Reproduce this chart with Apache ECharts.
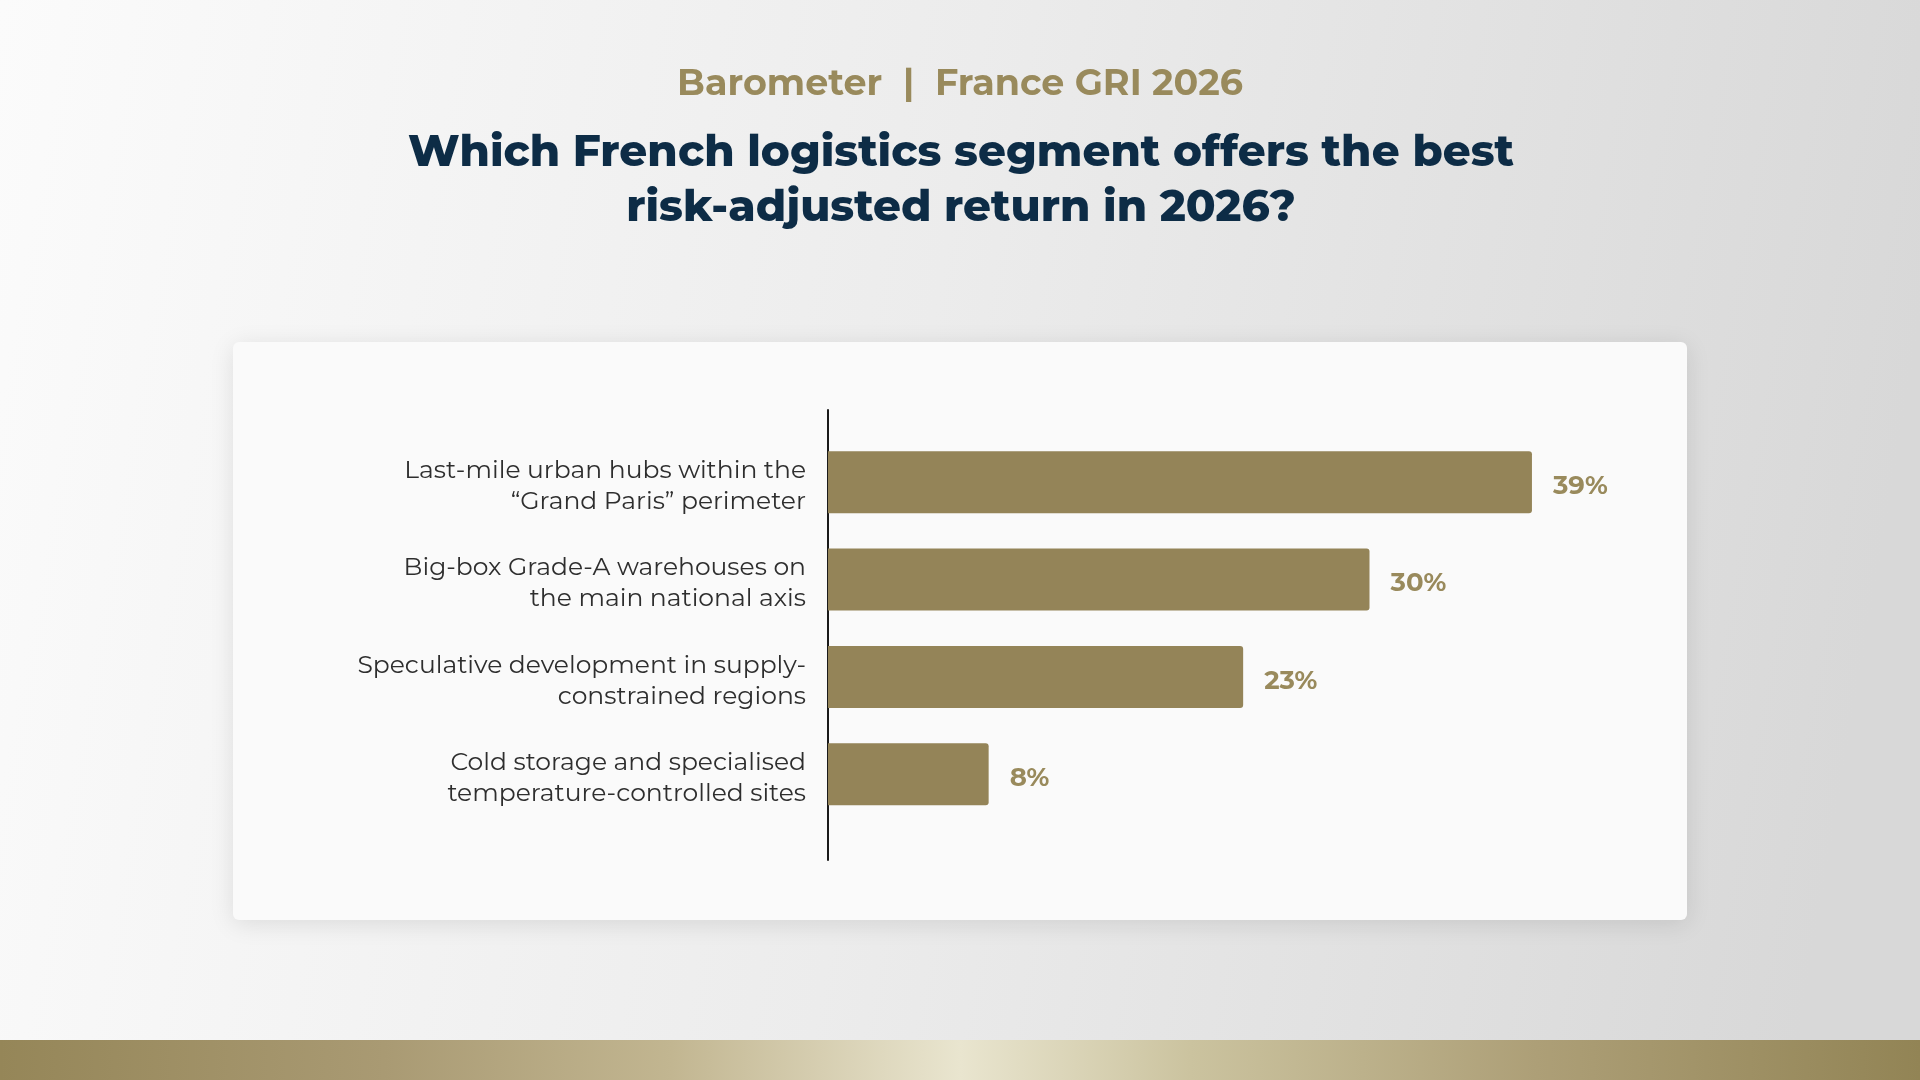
<!DOCTYPE html>
<html>
<head>
<meta charset="utf-8">
<title>France GRI 2026 - logistics barometer</title>
<script src="https://cdn.jsdelivr.net/npm/echarts@6/dist/echarts.min.js"></script>
<style>
  html, body { margin: 0; padding: 0; }
  #chart { width: 1920px; height: 1080px; }
</style>
</head>
<body>
<div id="chart"></div>
<script>
// 数据
const categories = [
  "Last-mile urban hubs within the\n\u201cGrand Paris\u201d perimeter",
  "Big-box Grade-A warehouses on\nthe main national axis",
  "Speculative development in supply-\nconstrained regions",
  "Cold storage and specialised\ntemperature-controlled sites",
];
const shares = [39, 30, 23, 8.9];   // bar lengths
const shareLabels = ["39%", "30%", "23%", "8%"];

const kicker = "Barometer  |  France GRI 2026";
const question = "Which French logistics segment offers the best\nrisk-adjusted return in 2026?";

// 配色
const gold = "#948458";
const goldText = "#998a5c";
const navy = "#0d2c46";
const FONT = "Montserrat, Inter, 'Open Sans', sans-serif";

const chart = echarts.init(document.getElementById("chart"), null, { renderer: "canvas" });

// grid 0: bars, grid 1: the long vertical axis line, grid 2: category labels (sit a touch lower)
chart.setOption({
  backgroundColor: {
    type: "linear", x: 0, y: 0, x2: 1, y2: 0.3,
    colorStops: [
      { offset: 0, color: "#fbfbfb" },
      { offset: 0.5, color: "#ececec" },
      { offset: 1, color: "#d8d8d8" },
    ],
  },
  graphic: [
    {
      type: "rect", z: -10, silent: true,
      shape: { x: 233, y: 342, width: 1454, height: 578, r: 6 },
      style: { fill: "#fafafa", shadowBlur: 24, shadowColor: "rgba(0,0,0,0.10)", shadowOffsetY: 4 },
    },
    {
      type: "rect", z: -10, silent: true,
      shape: { x: 0, y: 1040, width: 1920, height: 40 },
      style: {
        fill: new echarts.graphic.LinearGradient(0, 0, 1, 0, [
          { offset: 0, color: "#958658" },
          { offset: 0.2, color: "#a99a73" },
          { offset: 0.35, color: "#c2b691" },
          { offset: 0.5, color: "#e9e5cf" },
          { offset: 0.62, color: "#cbc39f" },
          { offset: 0.8, color: "#ad9f77" },
          { offset: 1, color: "#928455" },
        ]),
      },
    },
  ],
  title: [
    {
      text: kicker, left: "center", top: 61,
      textStyle: { fontFamily: FONT, fontSize: 36.5, fontWeight: 700, color: goldText },
    },
    {
      text: question, left: 956, top: 121, textAlign: "center",
      textStyle: { fontFamily: FONT, fontSize: 43.6, fontWeight: 800, color: navy, lineHeight: 55 },
    },
  ],
  grid: [
    { left: 828, top: 433.5, width: 902.5, height: 389.5 },
    { left: 828, top: 410, width: 10, height: 450 },
    { left: 828, top: 437.5, width: 10, height: 389.5 },
  ],
  xAxis: [
    { gridIndex: 0, type: "value", min: 0, max: 50, show: false },
    { gridIndex: 1, type: "value", show: false },
    { gridIndex: 2, type: "value", show: false },
  ],
  yAxis: [
    {
      gridIndex: 0, type: "category", data: categories, inverse: true,
      axisLine: { show: false }, axisTick: { show: false }, axisLabel: { show: false },
    },
    {
      gridIndex: 1, type: "value",
      axisLine: { show: true, lineStyle: { color: "#1a1a1a", width: 2 } },
      axisTick: { show: false }, axisLabel: { show: false }, splitLine: { show: false },
    },
    {
      gridIndex: 2, type: "category", data: categories, inverse: true,
      axisLine: { show: false }, axisTick: { show: false },
      axisLabel: {
        margin: 22, fontFamily: FONT, fontSize: 25, lineHeight: 31,
        color: "#2e2e2e", align: "right",
      },
    },
  ],
  series: [
    {
      type: "bar", xAxisIndex: 0, yAxisIndex: 0,
      data: shares, barWidth: 62,
      itemStyle: { color: gold, borderRadius: [0, 3, 3, 0] },
      label: {
        show: true, position: "right", distance: 21, offset: [0, 4],
        formatter: (p) => shareLabels[p.dataIndex],
        fontFamily: FONT, fontSize: 26, fontWeight: 700, color: goldText,
      },
      silent: true,
    },
  ],
});
</script>
</body>
</html>
